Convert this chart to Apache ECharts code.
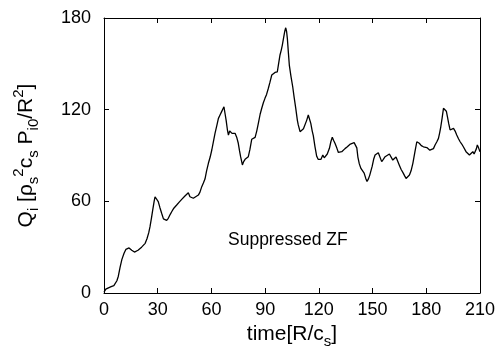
<!DOCTYPE html>
<html>
<head>
<meta charset="utf-8">
<script src="https://cdn.jsdelivr.net/npm/echarts@6/dist/echarts.min.js"></script>
<style>
html,body{margin:0;padding:0;background:#fff;}
#c{width:501px;height:349px;}
</style>
</head>
<body>
<div id="c"></div>
<script>
const times = [0,1,2,4,5.5,6.5,7.2,8,9,10,11.2,12.2,13,14,15.5,17,18,19,20.1,21,22,23,24,25,25.7,26.5,27.2,28,28.5,29.2,30.3,31.2,32.2,33.2,34.1,35,35.9,37,37.8,39,40.6,42,43.4,44.3,45.2,46.2,47.1,48,49,49.9,51,52.7,53.6,54.6,55.5,56.4,57.3,58.3,59.3,60.2,61,62,63,63.9,64.8,65.7,66.4,67,67.6,68.2,68.9,69.5,70.2,70.8,71.5,72.3,73.2,74.1,75,75.7,76.3,77.3,78,78.8,79.7,80.6,81.5,82.5,83.4,84.4,85.3,86.2,87.2,88.1,89,89.9,90.8,91.8,92.7,93.7,94.6,95.5,96.2,96.8,97.5,98.3,99,99.6,100.3,101,101.5,102,102.4,103,103.5,104.4,105.4,106.2,107.1,108,108.5,109.5,110.4,111.4,112.3,113.2,114.1,114.7,115.5,116.3,116.9,117.8,118.8,119.6,120.3,121.2,122.2,123,124,124.7,125.9,126.7,127.5,128.2,129,130,130.9,131.8,132.8,133.7,134.6,135.9,136.8,137.6,138.5,139.7,140.6,141.2,141.8,142.6,143.5,144.4,145.3,146.2,146.9,147.6,148.4,149,149.8,150.6,151.4,152.3,153.2,154,155.1,156,157,158,159.4,160.3,161.3,162.2,163.1,164,165,165.9,167.2,168,168.7,169.6,170.6,171.5,172.5,173.6,174.7,175.4,176.1,177.2,178.4,179.3,180.3,181.2,182,183,184,184.9,185.9,186.8,187.5,188.1,188.9,189.6,190.5,191.2,191.8,192.5,193.3,194.2,195.2,196.1,197,198,198.9,199.8,200.7,201.5,202.2,203.1,204.1,205,206,206.7,207.3,208,208.5,209.2,210];
const heatFlux = [0.5,2.5,3.5,4.2,4.8,6,8,11,17,22,26,28.5,29.7,29.5,28,26.8,26.5,28,29.2,30,30.8,32.5,35.5,39.5,43.4,49,54.3,60,63,62,59.8,56,52.2,48.5,47.3,47.5,48.9,51.5,53.2,55.5,57.6,59.5,61.3,61.8,63.5,64.5,65.6,63,62.2,62,62.5,64.1,66,69.6,72,74.6,80,84.9,89,93.6,98.5,104.5,109.5,114.3,116.5,118.7,119.5,121.9,117.5,113.2,107,103.4,106,106.7,104.5,105.5,104.5,102,98,93,89.2,83.8,86,87.5,88,89.2,94,100.6,101.2,101.9,106,111,117,120.9,124.5,127.4,130,134,138,142.7,143.5,144.4,143.5,144.8,150,155.8,159,162.3,167,171.5,173.6,171,166.7,157,149.2,142,135,128,120.9,113,110,105.6,104.5,107.5,108.8,113,116.5,117.3,111,106,103,96,89.5,87.5,86.2,87.5,90.3,88.5,88.2,91,94.7,99,102,100,98,95,92,91.4,92.5,92,94.5,95.7,97,97.5,97.8,98.4,98,95,89,84.5,81.5,80.5,78.5,75,73,74.5,77,78.3,83,87.5,90.3,91,91.8,90.5,86,87.5,89.2,88.5,91,91,87,88,89,88,83.5,81,78.3,76.5,75,76,77.2,80,84.9,92,99,98.5,98,96.5,95.7,95,95.2,94.2,93.5,92.5,94.5,96.9,99,101.2,105,108.8,115,120.9,121.9,119,115.4,111,106.7,108,107.8,106,103.4,101,99,97.5,95.7,94.5,92.5,91.5,90.3,91.5,92.5,91,91.4,94.5,96.9,95,92.5];
const xTicks = [0,30,60,90,120,150,180,210];
const yTicks = [0,60,120,180];
const xTitle = 'time[R/c{sub|s}]';
const yTitle = 'Q{sub|i} [ρ{sub|s}{sup|2}c{sub|s} P{sub|i0}/R{sup|2}]';
const annotation = 'Suppressed ZF';

const FONT = 'Liberation Sans';
const rich = {
  sub: {fontSize: 15, fontFamily: FONT, color: '#000', padding: [14, 0, 0, 0]},
  sup: {fontSize: 15, fontFamily: FONT, color: '#000', padding: [0, 0, 16, 0]}
};
const chart = echarts.init(document.getElementById('c'), null, {renderer: 'canvas'});
const axisCommon = {
  type: 'value',
  splitLine: {show: false},
  axisLine: {show: true, onZero: false, lineStyle: {color: '#000', width: 1}},
  axisTick: {show: true, inside: true, length: 5, lineStyle: {color: '#000', width: 1}},
};
chart.setOption({
  animation: false,
  backgroundColor: '#fff',
  grid: {left: 104, right: 21, top: 18, bottom: 56, containLabel: false, outerBoundsMode: 'none'},
  xAxis: [
    Object.assign({}, axisCommon, {
      min: xTicks[0], max: xTicks[xTicks.length - 1], interval: 30,
      axisLabel: {color: '#000', fontSize: 18, fontFamily: FONT, margin: 8},
      name: xTitle, nameLocation: 'middle', nameGap: 27,
      nameTextStyle: {color: '#000', fontSize: 21, fontFamily: FONT, rich: rich}
    }),
    Object.assign({}, axisCommon, {
      position: 'top', min: xTicks[0], max: xTicks[xTicks.length - 1], interval: 30,
      axisLabel: {show: false}
    })
  ],
  yAxis: [
    Object.assign({}, axisCommon, {
      min: yTicks[0], max: yTicks[yTicks.length - 1], interval: 60,
      axisLabel: {color: '#000', fontSize: 18, fontFamily: FONT, margin: 13},
      name: yTitle, nameLocation: 'middle', nameGap: 62, nameRotate: 90,
      nameTextStyle: {color: '#000', fontSize: 21, fontFamily: FONT, rich: rich}
    }),
    Object.assign({}, axisCommon, {
      position: 'right', min: yTicks[0], max: yTicks[yTicks.length - 1], interval: 60,
      axisLabel: {show: false}
    })
  ],
  series: [{
    type: 'line',
    data: times.map((t, i) => [t, heatFlux[i]]),
    showSymbol: false,
    symbol: 'none',
    lineStyle: {color: '#000', width: 1.3},
    silent: true
  }],
  graphic: [{
    type: 'text',
    left: 228, top: 231,
    style: {text: annotation, fill: '#000', font: '17.5px "Liberation Sans"'}
  }]
});
</script>
</body>
</html>
